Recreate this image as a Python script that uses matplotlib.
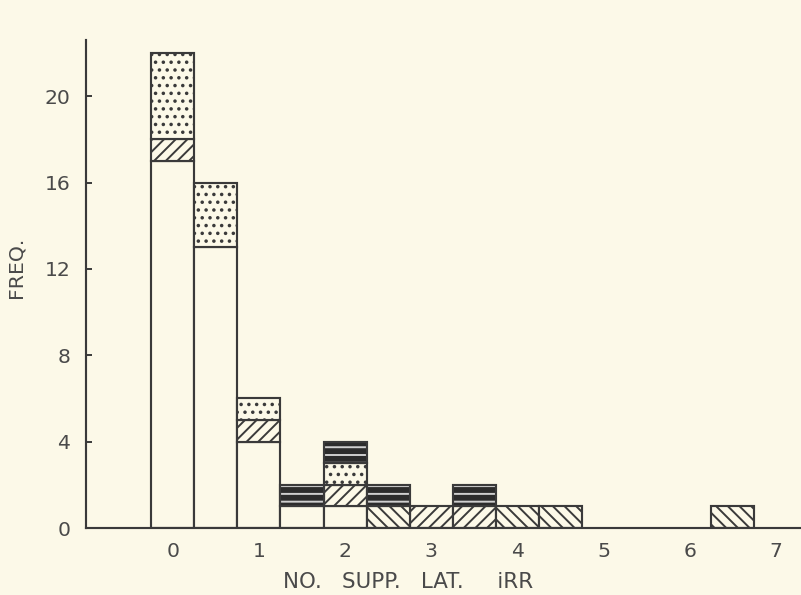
import numpy as np
import matplotlib
matplotlib.use('Agg')
import matplotlib.pyplot as plt

# bin centres (width 0.5) and stacked counts, bottom to top
centres = [0, 0.5, 1, 1.5, 2, 2.5, 3, 3.5, 4, 4.5, 6.5]
plain   = [17, 13, 4, 1, 1, 0, 0, 0, 0, 0, 0]
fwd     = [1, 0, 1, 0, 1, 0, 1, 1, 0, 0, 0]
back    = [0, 0, 0, 0, 0, 1, 0, 0, 1, 1, 1]
dots    = [4, 3, 1, 0, 1, 0, 0, 0, 0, 0, 0]
dark    = [0, 0, 0, 1, 1, 1, 0, 1, 0, 0, 0]

xticks = [0, 1, 2, 3, 4, 5, 6, 7]
yticks = [0, 4, 8, 12, 16, 20]

bg = '#fcf9e8'
ink = '#3a3a3a'
txt = '#4a4a4a'

plt.rcParams['hatch.linewidth'] = 1.0
plt.rcParams['font.family'] = ['DejaVu Sans']

DPI = 140
fig = plt.figure(figsize=(801 / DPI, 595 / DPI), dpi=DPI, facecolor=bg)
ax = fig.add_axes([0.107, 0.1126, 0.893, 0.82])
ax.set_facecolor(bg)

w = 0.5
bottom = np.zeros(len(centres))
layers = [(plain, None), (fwd, '////'), (back, '\\' * 4), (dots, '...'), (dark, 'dark')]
for vals, hatch in layers:
    vals = np.array(vals, dtype=float)
    mask = vals > 0
    xs = np.array(centres)[mask]
    hs = vals[mask]
    bs = bottom[mask]
    if hatch == 'dark':
        ax.bar(xs, hs, width=w, bottom=bs, color='#2c2c2c', edgecolor='#cfcfcf',
               hatch='---', linewidth=0)
        ax.bar(xs, hs, width=w, bottom=bs, fill=False, edgecolor=ink, linewidth=1.1)
    else:
        ax.bar(xs, hs, width=w, bottom=bs, facecolor=bg, edgecolor=ink,
               hatch=hatch, linewidth=1.1)
    bottom = bottom + vals

ax.set_xlim(-1.01, 7.29)
ax.set_ylim(0, 22.6)
ax.set_xticks(xticks)
ax.set_yticks(yticks)
ax.tick_params(axis='x', length=0, pad=7, labelsize=10.5, labelcolor=txt)
ax.tick_params(axis='y', direction='in', length=3, width=1, color=ink,
               pad=8, labelsize=10.5, labelcolor=txt)
for s in ['top', 'right']:
    ax.spines[s].set_visible(False)
for s in ['left', 'bottom']:
    ax.spines[s].set_color(ink)
    ax.spines[s].set_linewidth(1.1)

ax.set_ylabel('FREQ.', fontsize=10.5, color=txt)
ax.yaxis.set_label_coords(-0.098, 0.535)
ax.yaxis.label.set_va('center')
ax.set_xlabel('NO.   SUPP.   LAT.     iRR', fontsize=11, color=txt)
ax.xaxis.set_label_coords(0.451, -0.111)
ax.xaxis.label.set_va('center')

fig.savefig('out.png', dpi=DPI, facecolor=bg)
